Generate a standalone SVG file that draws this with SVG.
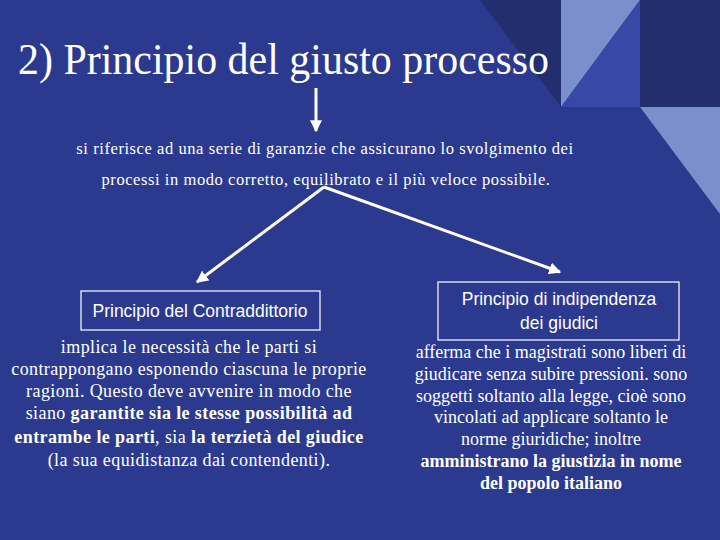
<svg xmlns="http://www.w3.org/2000/svg" width="720" height="540" viewBox="0 0 720 540">
<style>
.serif{font-family:'Liberation Serif','Times New Roman',serif;fill:#ffffff}
.sans{font-family:'Liberation Sans',Arial,sans-serif;fill:#ffffff}
.conn{stroke:#ffffff;stroke-width:3;fill:none;marker-end:url(#ah)}
.box{fill:none;stroke:#ffffff;stroke-width:1.2}
.b{font-weight:bold}
</style>
<defs>
<marker id="ah" viewBox="0 0 10 10" refX="9" refY="5" markerWidth="4" markerHeight="4" orient="auto" markerUnits="strokeWidth">
<path d="M0,0 L10,5 L0,10 z" fill="#ffffff"/>
</marker>
</defs>
<rect x="0" y="0" width="720" height="540" fill="#2B3A8F"/>
<g id="decor">
<polygon points="480,0 561,0 561,107" fill="#222E6E"/>
<polygon points="561,0 640,0 561,107" fill="#7B8FCC"/>
<polygon points="640,0 640,107 561,107" fill="#3848A6"/>
<rect x="640" y="0" width="80" height="107" fill="#222E6E"/>
<polygon points="640,107 720,107 720,214" fill="#7B8FCC"/>
</g>
<g id="title">
<text class="serif" transform="translate(18,74) scale(0.932,1)" x="0" y="0" font-size="45">2) Principio del giusto processo</text>
</g>
<g id="definition" class="serif" font-size="16.5" letter-spacing="0.57" text-anchor="middle">
<text x="325" y="154">si riferisce ad una serie di garanzie che assicurano lo svolgimento dei</text>
<text x="326" y="185">processi in modo corretto, equilibrato e il più veloce possibile.</text>
</g>
<g id="contraddittorio">
<rect class="box" x="81" y="291" width="239" height="39"/>
<text class="sans" x="200" y="317" font-size="17.5" text-anchor="middle">Principio del Contraddittorio</text>
<g class="serif" font-size="18" letter-spacing="0.4" text-anchor="middle">
<text x="189" y="353">implica le necessità che le parti si</text>
<text x="189" y="375">contrappongano esponendo ciascuna le proprie</text>
<text x="189" y="397">ragioni. Questo deve avvenire in modo che</text>
<text x="189" y="419">siano <tspan class="b">garantite sia le stesse possibilità ad</tspan></text>
<text x="189" y="443"><tspan class="b">entrambe le parti</tspan>, sia <tspan class="b">la terzietà del giudice</tspan></text>
<text x="189" y="466">(la sua equidistanza dai contendenti).</text>
</g>
</g>
<g id="indipendenza">
<rect class="box" x="438" y="282" width="241" height="58"/>
<text class="sans" x="559" y="305" font-size="17.5" text-anchor="middle">Principio di indipendenza</text>
<text class="sans" x="559" y="329" font-size="17.5" text-anchor="middle">dei giudici</text>
<g class="serif" font-size="18" text-anchor="middle">
<text x="551" y="358">afferma che i magistrati sono liberi di</text>
<text x="551" y="380">giudicare senza subire pressioni. sono</text>
<text x="551" y="402">soggetti soltanto alla legge, cioè sono</text>
<text x="551" y="423">vincolati ad applicare soltanto le</text>
<text x="551" y="445">norme giuridiche; inoltre</text>
<text x="551" y="467" class="b">amministrano la giustizia in nome</text>
<text x="551" y="489" class="b">del popolo italiano</text>
</g>
</g>
<g id="connectors">
<line class="conn" x1="316" y1="88" x2="316" y2="131"/>
<line class="conn" x1="324" y1="187" x2="197" y2="282"/>
<line class="conn" x1="324" y1="187" x2="560" y2="272"/>
</g>
</svg>
